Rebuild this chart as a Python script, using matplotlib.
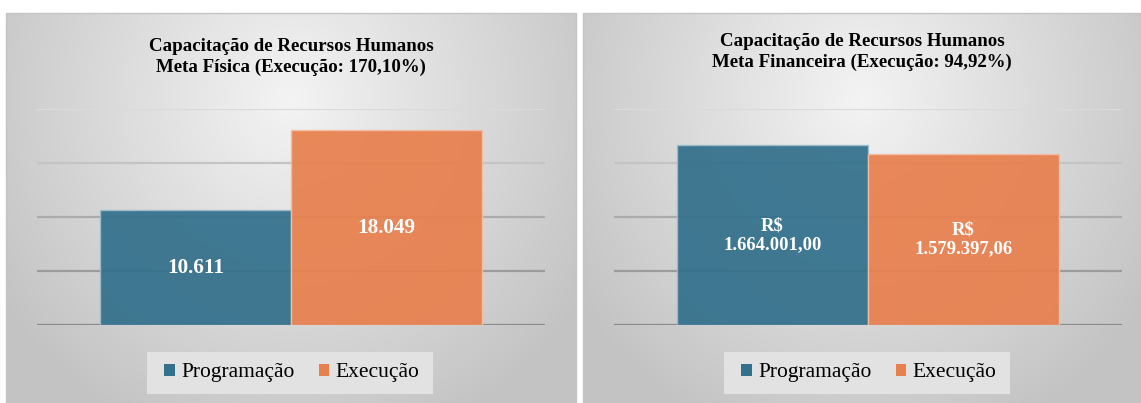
import numpy as np
import matplotlib
matplotlib.use("Agg")
import matplotlib.pyplot as plt
from matplotlib.patches import Rectangle

# ---- data ----
series = ["Programação", "Execução"]
fisica_values = [10611, 18049]
fisica_labels = ["10.611", "18.049"]
financeira_values = [1664001.00, 1579397.06]
financeira_labels = ["R$\n1.664.001,00", "R$\n1.579.397,06"]
titles = ["Capacitação de Recursos Humanos\nMeta Física (Execução: 170,10%)",
          "Capacitação de Recursos Humanos\nMeta Financeira (Execução: 94,92%)"]
fisica_ticks = [0, 5000, 10000, 15000, 20000]
financeira_ticks = [0, 500000, 1000000, 1500000, 2000000]

colors = ["#33708c", "#e8804e"]
edge_colors = ["#9dbccc", "#f3c0a4"]
grid_colors = ["#8a8a8a", "#9c9c9c", "#ababab", "#c4c4c4", "#dadada"]

W, H = 1141, 403
fig = plt.figure(figsize=(W / 100, H / 100), dpi=100)
fig.patch.set_facecolor("white")

SERIF = ["Liberation Serif", "DejaVu Serif"]


def fx(px):
    return px / W


def fy(py):
    return 1 - py / H


def panel_bg(x0, x1, y0, y1):
    ax = fig.add_axes([fx(x0), fy(y1), fx(x1 - x0), (y1 - y0) / H], zorder=0)
    ny, nx = 200, 300
    xx, yy = np.meshgrid(np.linspace(0, 1, nx), np.linspace(0, 1, ny))
    r = np.sqrt(((xx - 0.5) / 0.55) ** 2 + ((yy - 0.22) / 0.85) ** 2)
    g = 0.955 - 0.17 * np.clip(r, 0, 1.1)
    img = np.dstack([g, g, g])
    ax.imshow(img, aspect="auto", extent=[0, 1, 1, 0], interpolation="bilinear")
    ax.set_xlim(0, 1)
    ax.set_ylim(1, 0)
    ax.axis("off")
    fig.add_artist(Rectangle((fx(x0), fy(y1)), fx(x1 - x0), (y1 - y0) / H,
                             transform=fig.transFigure, fill=False,
                             edgecolor="#c4c4c4", linewidth=1.0, zorder=1))


def make_panel(offset, values, labels, ticks, title, label_size, panel, title_y):
    x0p, x1p = panel
    panel_bg(x0p, x1p, 13, 403)
    ax = fig.add_axes([fx(37 + offset), fy(325), fx(508), (325 - 109) / H], zorder=2)
    ax.patch.set_alpha(0)
    for t, c in zip(ticks, grid_colors):
        ax.axhline(t, color=c, linewidth=1.6, zorder=1)
    x = np.arange(len(values))
    bars = ax.bar(x, values, width=1.0, color=colors, alpha=0.93,
                  edgecolor=edge_colors, linewidth=1.0, zorder=2)
    for b, lab in zip(bars, labels):
        ax.text(b.get_x() + b.get_width() / 2, b.get_height() / 2, lab,
                ha="center", va="center", color="white", fontweight="bold",
                fontsize=label_size, family=SERIF, linespacing=1.12, zorder=3)
    ax.set_ylim(ticks[0], ticks[-1])
    ax.set_xlim(-0.83, 1.83)
    ax.axis("off")
    cx = (x0p + x1p) / 2
    fig.text(fx(cx), fy(title_y), title, ha="center", va="center",
             fontsize=13.6, fontweight="bold", family=SERIF, linespacing=1.22,
             zorder=5)
    # legend background box
    fig.add_artist(Rectangle((fx(147 + offset), fy(394)), fx(286), 42 / H,
                             transform=fig.transFigure, facecolor="#e2e2e2",
                             edgecolor="none", zorder=3))
    handles = [Rectangle((0, 0), 1, 1, facecolor=c, edgecolor="none") for c in colors]
    leg = fig.legend(handles, series, loc="center",
                     bbox_to_anchor=(fx(292 + offset), fy(373)), ncol=2,
                     frameon=False, prop={"family": SERIF, "size": 15.5},
                     handlelength=0.5, handleheight=0.5, handletextpad=0.3,
                     columnspacing=1.1)
    leg.set_zorder(6)


make_panel(0, fisica_values, fisica_labels, fisica_ticks, titles[0], 15.2, (6, 576), 57)
make_panel(577, financeira_values, financeira_labels, financeira_ticks, titles[1], 13.4, (583, 1141), 52)

fig.savefig("out.png", dpi=100, facecolor="white")
